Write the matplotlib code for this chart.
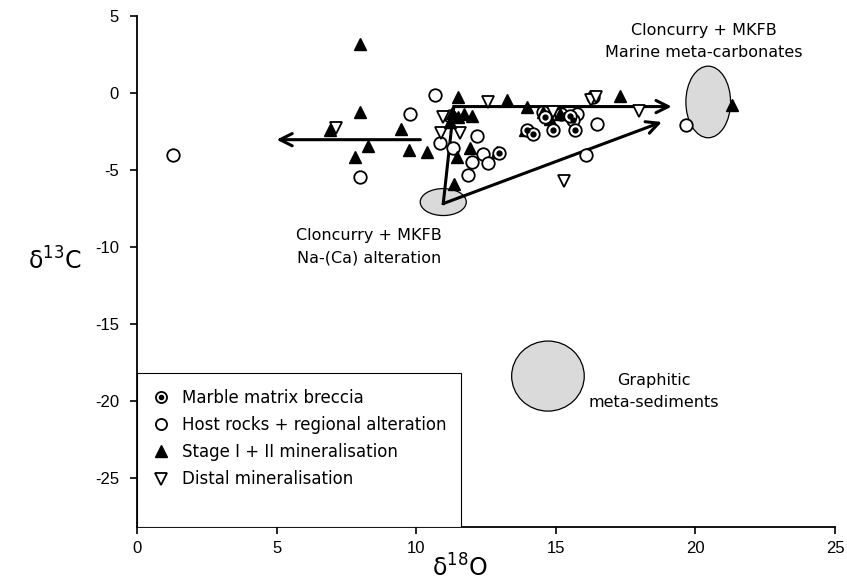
import numpy as np
import matplotlib
matplotlib.use("Agg")
import matplotlib.pyplot as plt
from matplotlib.patches import Ellipse, Rectangle
from matplotlib.lines import Line2D
from matplotlib.legend_handler import HandlerTuple

plt.rcParams["axes.unicode_minus"] = False

# === Dados: d18O, d13C por grupo ===
marble_x = [12.95, 13.96, 14.2, 14.91, 15.63, 15.69, 15.5, 14.6]
marble_y = [-3.9, -2.44, -2.66, -2.44, -1.8, -2.44, -1.5, -1.6]

host_x = [1.3, 7.99, 9.78, 10.67, 10.85, 11.33, 12.17, 12.4, 11.99, 12.58,
          11.87, 14.55, 15.2, 15.75, 16.47, 16.1, 19.66, 16.35, 11.2]
host_y = [-4.05, -5.5, -1.4, -0.15, -3.25, -3.6, -2.8, -4.0, -4.5, -4.55,
          -5.35, -1.25, -1.4, -1.4, -2.0, -4.07, -2.1, -0.3, -1.5]

stage_x = [8.0, 7.99, 6.9, 9.46, 8.28, 7.81, 9.76, 10.38, 11.49, 13.26,
           13.96, 11.3, 11.5, 11.7, 12.0, 11.2, 11.92, 11.48, 11.36, 14.56,
           15.15, 14.8, 17.3, 21.3, 13.9, 12.9]
stage_y = [3.15, -1.25, -2.45, -2.35, -3.48, -4.18, -3.72, -3.85, -0.25, -0.5,
           -0.92, -1.3, -1.6, -1.4, -1.5, -1.9, -3.58, -4.18, -5.9, -1.25,
           -1.36, -1.7, -0.2, -0.8, -2.4, -3.85]

distal_x = [7.13, 10.97, 12.58, 10.9, 11.58, 14.91, 16.25, 16.45, 17.98,
            15.28, 15.5]
distal_y = [-2.3, -1.6, -0.63, -2.6, -2.64, -1.25, -0.5, -0.3, -1.2,
            -5.75, -1.7]

# campos de referência: centro x, centro y, largura, altura
fields_x = [20.46, 10.97, 14.72]
fields_y = [-0.6, -7.1, -18.4]
fields_w = [1.6, 1.65, 2.6]
fields_h = [4.65, 1.75, 4.55]

txt = "Liberation Sans"
lbl = "DejaVu Sans"

fig, ax = plt.subplots(figsize=(8.47, 5.82), dpi=100)
fig.subplots_adjust(left=0.1617, right=0.9858, top=0.973, bottom=0.0945)

for cx, cy, w, h in zip(fields_x, fields_y, fields_w, fields_h):
    ax.add_patch(Ellipse((cx, cy), w, h, facecolor="#dadada",
                         edgecolor="black", lw=0.9, zorder=1))

# === Setas ===
arrow = dict(arrowstyle="->", lw=2.2, color="black",
             mutation_scale=22, shrinkA=0, shrinkB=0)
ax.plot([10.97, 11.35], [-7.2, -0.9], color="black", lw=2.2, zorder=2)
ax.annotate("", xy=(19.15, -0.9), xytext=(11.35, -0.9),
            arrowprops=arrow, zorder=2)
ax.annotate("", xy=(18.8, -1.9), xytext=(10.97, -7.2),
            arrowprops=arrow, zorder=2)
ax.annotate("", xy=(5.0, -3.05), xytext=(10.15, -3.05),
            arrowprops=arrow, zorder=2)

# === Pontos ===
ms = 9
ax.plot(host_x, host_y, "o", ms=ms, mfc="white", mec="black", mew=1.3,
        zorder=3)
ax.plot(distal_x, distal_y, "v", ms=ms, mfc="white", mec="black",
        mew=1.3, zorder=3)
ax.plot(stage_x, stage_y, "^", ms=ms, mfc="black", mec="black", zorder=4)
ax.plot(marble_x, marble_y, "o", ms=ms, mfc="white", mec="black",
        mew=1.3, zorder=4)
ax.plot(marble_x, marble_y, "o", ms=3.5, mfc="black", mec="black",
        zorder=5)

# === Textos ===
ax.text(20.3, 3.35, "Cloncurry + MKFB\nMarine meta-carbonates", ha="center",
        va="center", fontsize=11.5, family=lbl, linespacing=1.6)
ax.text(8.3, -10.0, "Cloncurry + MKFB\nNa-(Ca) alteration", ha="center",
        va="center", fontsize=11.5, family=lbl, linespacing=1.6)
ax.text(18.5, -19.4, "Graphitic\nmeta-sediments", ha="center",
        va="center", fontsize=11.5, family=lbl, linespacing=1.6)

# === Legenda ===
ax.add_patch(Rectangle((0, 0), 0.464, 0.301, transform=ax.transAxes,
                       facecolor="white", edgecolor="black", lw=0.8,
                       zorder=6))
h_marble = (Line2D([], [], ls="", marker="o", ms=8, mfc="white",
                   mec="black", mew=1.3),
            Line2D([], [], ls="", marker="o", ms=3, mfc="black",
                   mec="black"))
h_host = Line2D([], [], ls="", marker="o", ms=8, mfc="white", mec="black",
                mew=1.3)
h_stage = Line2D([], [], ls="", marker="^", ms=8, mfc="black", mec="black")
h_distal = Line2D([], [], ls="", marker="v", ms=8, mfc="white",
                  mec="black", mew=1.3)
leg = ax.legend([h_marble, h_host, h_stage, h_distal],
                ["Marble matrix breccia",
                 "Host rocks + regional alteration",
                 "Stage I + II mineralisation",
                 "Distal mineralisation"],
                handler_map={tuple: HandlerTuple(ndivide=1)},
                loc="upper left", bbox_to_anchor=(0.01, 0.283),
                frameon=False, prop={"family": lbl, "size": 12},
                handlelength=1.2, handletextpad=0.7, labelspacing=0.55,
                borderaxespad=0)
leg.set_zorder(7)

# === Eixos ===
ax.set_xlim(0, 25)
ax.set_ylim(-28.2, 5)
ax.set_xticks([0, 5, 10, 15, 20, 25])
ax.set_yticks([5, 0, -5, -10, -15, -20, -25])
ax.spines["top"].set_visible(False)
ax.spines["right"].set_visible(False)
ax.spines["left"].set_linewidth(1.3)
ax.spines["bottom"].set_linewidth(1.3)
ax.tick_params(direction="out", length=5, width=1.2, labelsize=12)
ax.tick_params(axis="x", pad=5)
ax.tick_params(axis="y", pad=8)
for t in ax.get_xticklabels() + ax.get_yticklabels():
    t.set_family(txt)

ax.set_xlabel("δ$^{18}$O", fontsize=17, family=lbl, va="center")
ax.xaxis.set_label_coords(0.463, -0.08)
ax.set_ylabel("δ$^{13}$C", fontsize=17, family=lbl, rotation=0,
              va="center", ha="center")
ax.yaxis.set_label_coords(-0.117, 0.52)

plt.savefig("out.png", dpi=100)
